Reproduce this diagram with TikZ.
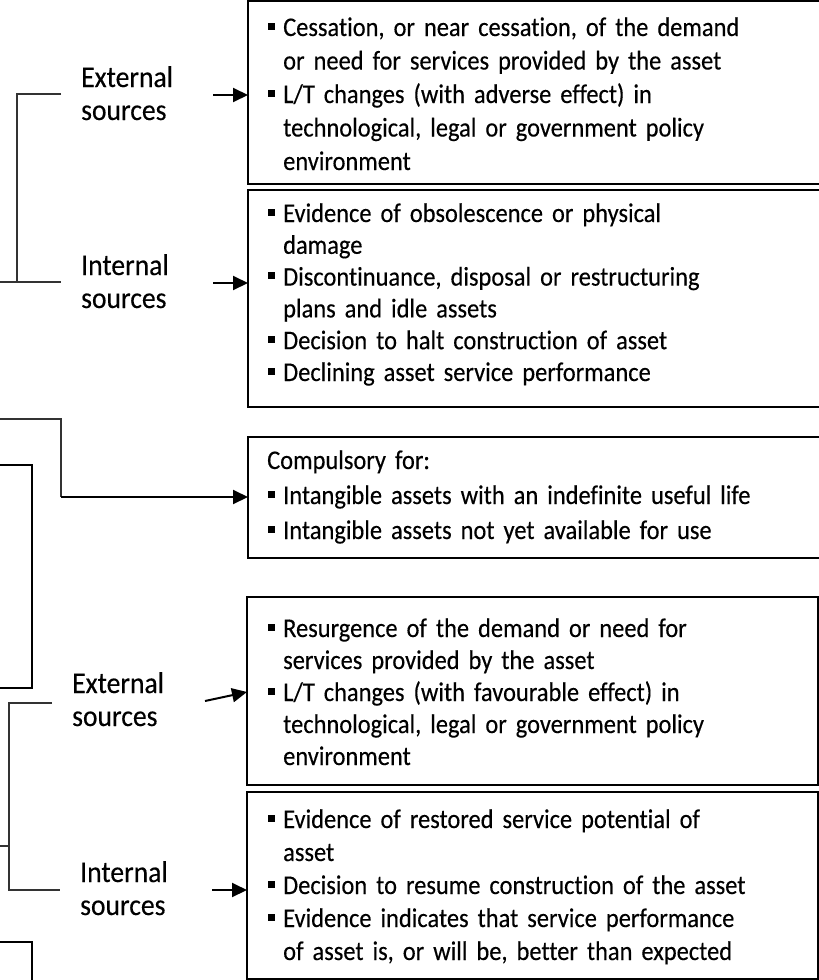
\documentclass[tikz,border=0pt]{standalone}
\usepackage{fontspec}
\setmainfont{Carlito}[FakeStretch=0.905,WordSpace=0.6,Ligatures=NoCommon,FakeBold=0.3]
\newfontfamily\lblfont{Carlito}[FakeStretch=0.92,Ligatures=NoCommon,FakeBold=0.3]
\usetikzlibrary{arrows.meta}
\newcommand\sqb{\makebox[0pt][r]{\raisebox{6.5pt}{\rule{7pt}{7pt}}\hspace{8pt}}}
\begin{document}
\frenchspacing
\begin{tikzpicture}[x=1pt,y=-1pt,
  boxline/.style={draw=black,line width=1.4pt},
  boxnode/.style={boxline,anchor=north west,inner sep=0pt,outer sep=0pt},
  brk/.style={draw=black!80,line width=1.1pt},
  arr/.style={draw=black,line width=2pt,-{Triangle[length=15pt,width=14pt]}},
  lbl/.style={anchor=base west,inner sep=0pt,text width=130pt,align=left,font=\lblfont\fontsize{30}{33}\selectfont},
  txt/.style={anchor=base west,inner sep=0pt,text width=540pt,align=left},
]
\useasboundingbox (0,0) rectangle (819,980);
\clip (0,0) rectangle (819,980);

% boxes
\node[boxnode,minimum width=580pt,minimum height=183pt] (b1) at (248,1) {};
\node[boxnode,minimum width=580pt,minimum height=217pt] (b2) at (248,190) {};
\node[boxnode,minimum width=580pt,minimum height=121pt] (b3) at (248,437) {};
\node[boxnode,minimum width=571pt,minimum height=188pt] (b4) at (247,597) {};
\node[boxnode,minimum width=571pt,minimum height=187pt] (b5) at (247,792) {};

% box texts
\node[txt,font=\fontsize{27}{33.5}\selectfont] (t1) at (283,36) {\sqb Cessation, or near cessation, of the demand\\ or need for services provided by the asset\\ \sqb L/T changes (with adverse effect) in\\ technological, legal or government policy\\ environment};
\node[txt,font=\fontsize{27}{31.8}\selectfont] (t2) at (283,222) {\sqb Evidence of obsolescence or physical\\ damage\\ \sqb Discontinuance, disposal or restructuring\\ plans and idle assets\\ \sqb Decision to halt construction of asset\\ \sqb Declining asset service performance};
\node[txt,font=\fontsize{27}{35}\selectfont] (t3h) at (267,469) {Compulsory for:};
\node[txt,font=\fontsize{27}{35}\selectfont] (t3) at (283,504) {\sqb Intangible assets with an indefinite useful life\\ \sqb Intangible assets not yet available for use};
\node[txt,font=\fontsize{27}{32}\selectfont] (t4) at (283,637) {\sqb Resurgence of the demand or need for\\ services provided by the asset\\ \sqb L/T changes (with favourable effect) in\\ technological, legal or government policy\\ environment};
\node[txt,font=\fontsize{27}{33}\selectfont] (t5) at (283,828) {\sqb Evidence of restored service potential of\\ asset\\ \sqb Decision to resume construction of the asset\\ \sqb Evidence indicates that service performance\\ of asset is, or will be, better than expected};

% labels
\node[lbl] (l1) at (81,87) {External\\sources};
\node[lbl] (l2) at (81,275) {Internal\\sources};
\node[lbl] (l4) at (72,693) {External\\sources};
\node[lbl] (l5) at (80,882) {Internal\\sources};

% brackets
\draw[brk] (61,94) -- (17,94) -- (17,282);
\draw[brk] (-5,282) -- (61,282);
\draw[brk] (52,703) -- (9,703) -- (9,890) -- (60,890);
\draw[brk] (-5,846) -- (9,846);

% left partial boxes
\draw[boxline] (-5,465) -| (32,688) -- (-5,688);
\draw[boxline] (-5,942) -| (32,990);

% connector to compulsory box
\coordinate (c3) at (61,497);
\draw[brk] (-5,419) -| (c3);
\draw[arr] (c3) -- (c3 -| b3.west);

% arrows
\coordinate (a1) at (213,95);
\coordinate (a2) at (213,283);
\coordinate (a4) at (205,701);
\coordinate (a4e) at (247,692);
\coordinate (a5) at (212,890);
\draw[arr] (a1) -- (a1 -| b1.west);
\draw[arr] (a2) -- (a2 -| b2.west);
\draw[arr] (a4) -- (a4e);
\draw[arr] (a5) -- (a5 -| b5.west);
\end{tikzpicture}
\end{document}
